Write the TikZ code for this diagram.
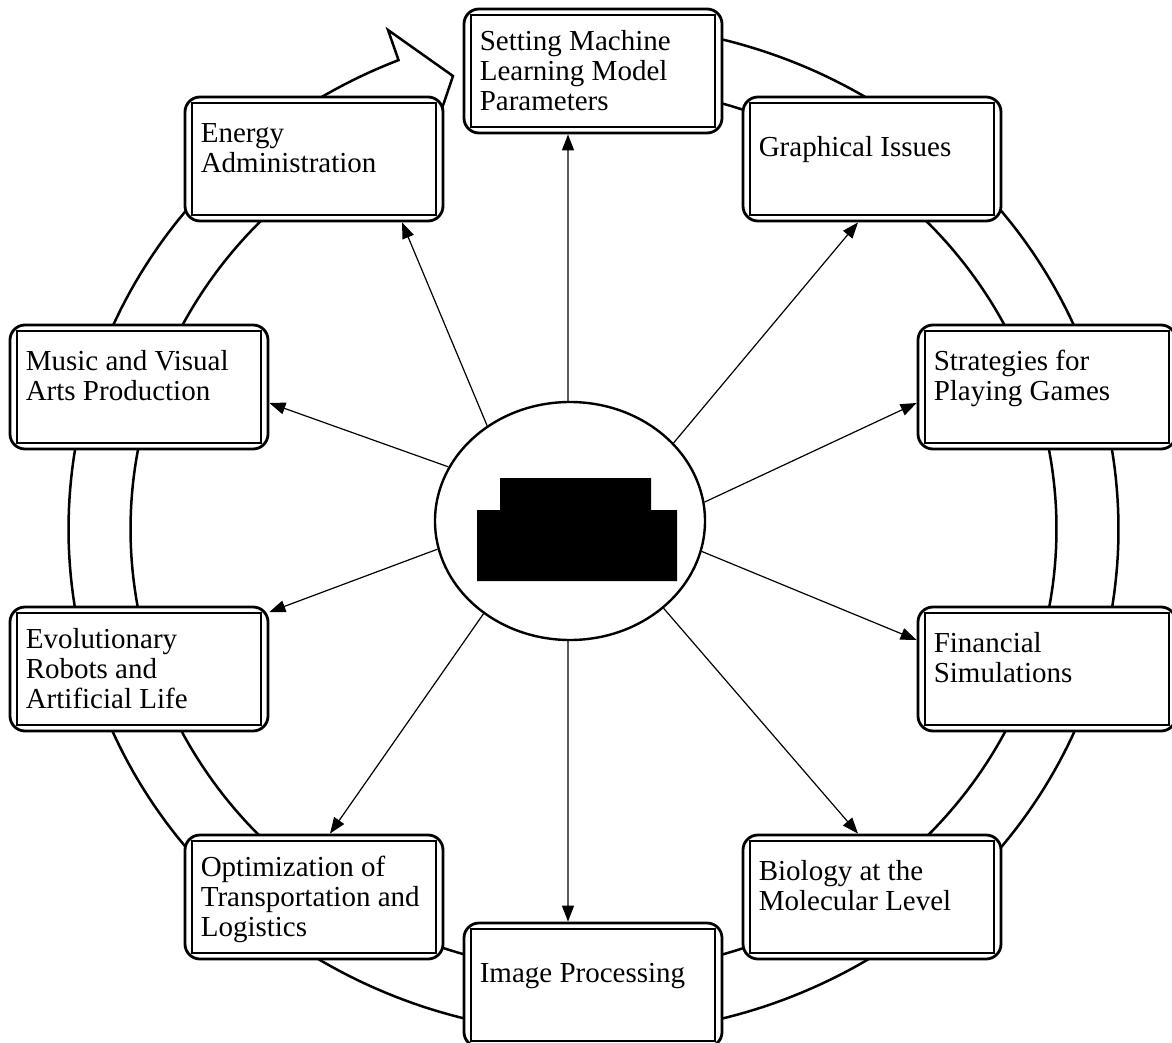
\documentclass[tikz,border=0pt]{standalone}
\usepackage{fontspec}
\setmainfont{Liberation Serif}
\usetikzlibrary{arrows.meta,shapes.geometric}
\tikzset{
  appbox/.style={draw, line width=2.8pt, rounded corners=15pt, fill=white,
    minimum width=258pt, minimum height=124pt, inner sep=0pt,
    path picture={\draw[line width=2.1pt, sharp corners]
      ([shift={(7pt,-6pt)}]path picture bounding box.north west) rectangle
      ([shift={(-7pt,6pt)}]path picture bounding box.south east);}},
  apptext/.style={anchor=base west, inner sep=0pt, font=\fontsize{29pt}{30pt}\selectfont},
  ring/.style={line width=2.5pt, line join=miter},
  feed/.style={line width=1.2pt, -{Triangle[length=16pt,width=12pt]}},
  hubshape/.style={ellipse, draw, line width=2.4pt, fill=white,
    minimum width=270pt, minimum height=238pt, inner sep=0pt}
}
\newcommand\appnode[5]{%
  \node[appbox] (#1) at (#2) {};
  \node[apptext] (#1-t) at ([shift={(17pt,-#4pt)}]#1.north west)
    {\parbox[t]{234pt}{\raggedright #5}};
}
\begin{document}
\begin{tikzpicture}[x=1pt,y=-1pt]
\useasboundingbox (0,0) rectangle (1172,1043);
% ring with arrow head
\draw[ring] plot[domain=-85:248.2, samples=300]
    ({593.5+525*cos(\x)},{529+505*sin(\x)})
  -- (388,30) -- (453,76)
  -- plot[domain=250.8:-85, samples=300]
    ({593.5+463*cos(\x)},{529+443*sin(\x)});
% boxes
\appnode{setting}{593,71}{}{43}{Setting Machine\\Learning Model\\Parameters}
\appnode{graphical}{872,159}{}{61}{Graphical Issues}
\appnode{strategies}{1047,387}{}{47}{Strategies for\\Playing Games}
\appnode{financial}{1047,669}{}{47}{Financial\\Simulations}
\appnode{biology}{872,897}{}{47}{Biology at the\\Molecular Level}
\appnode{image}{593,985}{}{61}{Image Processing}
\appnode{optimization}{314,897}{}{43}{Optimization of\\Transportation and\\Logistics}
\appnode{evolutionary}{139,669}{}{43}{Evolutionary\\Robots and\\Artificial Life}
\appnode{music}{139,387}{}{47}{Music and Visual\\Arts Production}
\appnode{energy}{314,159}{}{47}{Energy\\Administration}
% hub
\node[hubshape] (hub) at (570,521) {};
\fill (500,478) -- (651,478) -- (651,510) -- (677,510) -- (677,581)
  -- (477,581) -- (477,510) -- (500,510) -- cycle;
% connectors
\draw[feed] (hub.91) -- (568,0 |- setting.south);
\draw[feed] (hub.37.5) -- (858,0 |- graphical.south);
\draw[feed] (hub.8.9) -- (strategies.west |- 0,403);
\draw[feed] (hub.347) -- (financial.west |- 0,640);
\draw[feed] (hub.317.1) -- (858,0 |- biology.north);
\draw[feed] (hub.269) -- (568,0 |- image.north);
\draw[feed] (hub.227.5) -- (330,0 |- optimization.north);
\draw[feed] (hub.192.8) -- (evolutionary.east |- 0,612);
\draw[feed] (hub.156.7) -- (music.east |- 0,403);
\draw[feed] (hub.131) -- (402,0 |- energy.south);
\end{tikzpicture}
\end{document}
